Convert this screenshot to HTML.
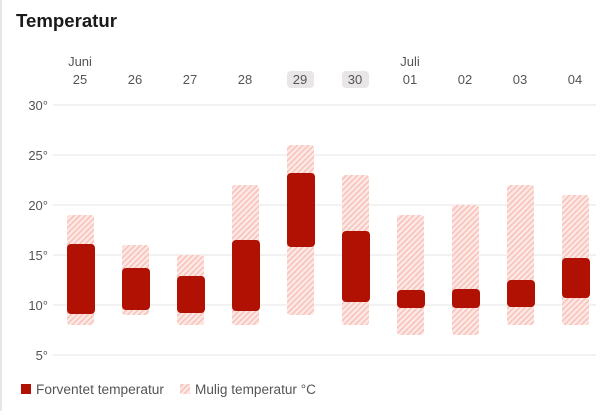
<!DOCTYPE html>
<html><head><style>
body{margin:0;width:601px;height:411px;background:#fff;overflow:hidden;font-family:"Liberation Sans",sans-serif;}
</style></head><body>
<svg width="601" height="411" xmlns="http://www.w3.org/2000/svg" font-family="Liberation Sans, sans-serif">
<defs>
<pattern id="h" patternUnits="userSpaceOnUse" width="4" height="4" patternTransform="rotate(45)">
<rect width="4" height="4" fill="#fde9e6"/><rect width="1.6" height="4" fill="#f8c2ba"/>
</pattern>
</defs>
<line x1="1" y1="0" x2="1" y2="411" stroke="#e6e6e6" stroke-width="2"/>
<text x="16" y="27" font-size="18" font-weight="bold" fill="#1a1a1a" textLength="101" lengthAdjust="spacingAndGlyphs">Temperatur</text>
<g stroke="#eeeeee" stroke-width="1.5">
<line x1="53" y1="105" x2="596" y2="105"/><line x1="53" y1="155" x2="596" y2="155"/>
<line x1="53" y1="205" x2="596" y2="205"/><line x1="53" y1="255" x2="596" y2="255"/>
<line x1="53" y1="305" x2="596" y2="305"/><line x1="53" y1="355" x2="596" y2="355"/>
</g>
<g font-size="13" fill="#555" text-anchor="end">
<text x="48" y="110">30°</text><text x="48" y="160">25°</text><text x="48" y="210">20°</text>
<text x="48" y="260">15°</text><text x="48" y="310">10°</text><text x="48" y="360">5°</text>
</g>
<rect x="287" y="71" width="27" height="17" rx="4" fill="#e8e6e6"/>
<rect x="342" y="71" width="27" height="17" rx="4" fill="#e8e6e6"/>
<g font-size="13" fill="#555" text-anchor="middle">
<text x="80" y="66">Juni</text><text x="410" y="66">Juli</text>
<text x="80" y="84">25</text><text x="135" y="84">26</text><text x="190" y="84">27</text><text x="245" y="84">28</text><text x="300" y="84">29</text><text x="355" y="84">30</text><text x="410" y="84">01</text><text x="465" y="84">02</text><text x="520" y="84">03</text><text x="575" y="84">04</text>
</g>
<g fill="url(#h)">
<rect x="67" y="215" width="27" height="110" rx="3"/>
<rect x="122" y="245" width="27" height="70" rx="3"/>
<rect x="177" y="255" width="27" height="70" rx="3"/>
<rect x="232" y="185" width="27" height="140" rx="3"/>
<rect x="287" y="145" width="27" height="170" rx="3"/>
<rect x="342" y="175" width="27" height="150" rx="3"/>
<rect x="397" y="215" width="27" height="120" rx="3"/>
<rect x="452" y="205" width="27" height="130" rx="3"/>
<rect x="507" y="185" width="27" height="140" rx="3"/>
<rect x="562" y="195" width="27" height="130" rx="3"/>
</g>
<g fill="#b01103">
<rect x="67" y="244" width="28" height="70" rx="4"/>
<rect x="122" y="268" width="28" height="42" rx="4"/>
<rect x="177" y="276" width="28" height="37" rx="4"/>
<rect x="232" y="240" width="28" height="71" rx="4"/>
<rect x="287" y="173" width="28" height="74" rx="4"/>
<rect x="342" y="231" width="28" height="71" rx="4"/>
<rect x="397" y="290" width="28" height="18" rx="4"/>
<rect x="452" y="289" width="28" height="19" rx="4"/>
<rect x="507" y="280" width="28" height="27" rx="4"/>
<rect x="562" y="258" width="28" height="40" rx="4"/>
</g>
<rect x="21" y="384" width="10" height="10" fill="#b01103"/>
<text x="36" y="394" font-size="13.5" fill="#555" textLength="128" lengthAdjust="spacingAndGlyphs">Forventet temperatur</text>
<rect x="180" y="384" width="10" height="10" fill="url(#h)"/>
<text x="195" y="394" font-size="13.5" fill="#555" textLength="121" lengthAdjust="spacingAndGlyphs">Mulig temperatur °C</text>
</svg>
</body></html>
